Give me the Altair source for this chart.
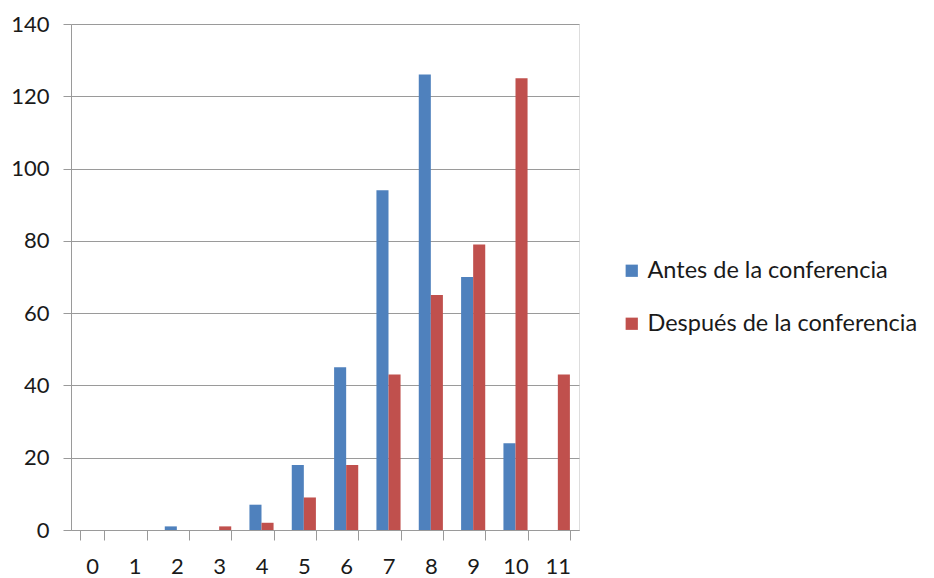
import altair as alt
import pandas as pd

categories = [str(i) for i in range(12)]
antes = [0, 0, 1, 0, 7, 18, 45, 94, 126, 70, 24, 0]
despues = [0, 0, 0, 1, 2, 9, 18, 43, 65, 79, 125, 43]
series = ["Antes de la conferencia", "Después de la conferencia"]
colors = ["#4F81BD", "#C0504D"]

rows = []
for c, a, d in zip(categories, antes, despues):
    rows.append({"cat": c, "serie": series[0], "val": a})
    rows.append({"cat": c, "serie": series[1], "val": d})
df = pd.DataFrame(rows)

FONT = "Lato"
GRID = "#9a9a9a"

chart = alt.Chart(df).mark_bar(stroke=None).encode(
    x=alt.X("cat:N", sort=categories, title=None,
            scale=alt.Scale(paddingInner=0.43, paddingOuter=0.215),
            axis=alt.Axis(labelAngle=0, tickBand="extent", tickSize=10, tickColor=GRID,
                          domainColor=GRID, labelFontSize=22, labelFont=FONT,
                          labelColor="#1a1a1a", labelPadding=16, grid=False)),
    xOffset=alt.XOffset("serie:N", sort=series),
    y=alt.Y("val:Q", title=None,
            scale=alt.Scale(domain=[0, 140]),
            axis=alt.Axis(values=list(range(0, 141, 20)), tickSize=8, tickColor=GRID,
                          domainColor=GRID, gridColor=GRID, grid=True,
                          labelFontSize=22, labelFont=FONT, labelColor="#1a1a1a",
                          labelPadding=14)),
    color=alt.Color("serie:N", sort=series,
                    scale=alt.Scale(domain=series, range=colors),
                    legend=alt.Legend(title=None, orient="none", legendX=549, legendY=235,
                                      symbolType="square", symbolSize=150,
                                      symbolStrokeWidth=0, labelLimit=0,
                                      labelFontSize=23.5, labelFont=FONT, labelColor="#1a1a1a",
                                      rowPadding=28, labelOffset=4)),
).properties(
    width=508, height=506,
    padding={"left": 2, "top": 5, "right": 0, "bottom": 0},
).configure_view(stroke=None).configure(background="white")

chart.save("out.html", embed_options={"renderer": "svg", "actions": False})
